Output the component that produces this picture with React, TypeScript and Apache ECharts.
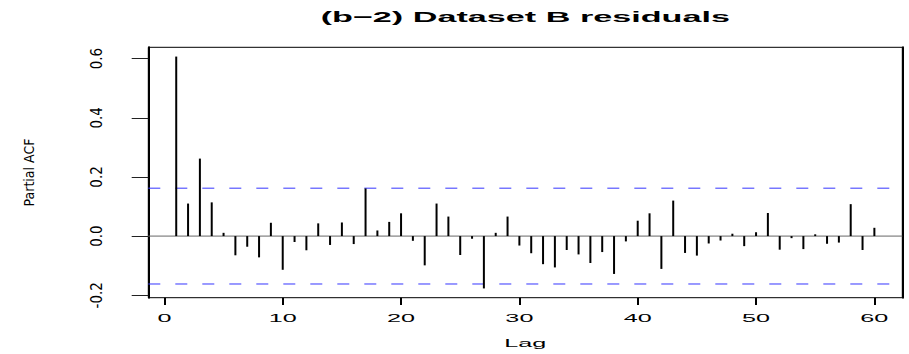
import React, { useEffect, useRef } from "react";
import * as echarts from "echarts";

const lags = [
  1, 2, 3, 4, 5, 6, 7, 8, 9, 10, 11, 12, 13, 14, 15, 16, 17, 18, 19, 20,
  21, 22, 23, 24, 25, 26, 27, 28, 29, 30, 31, 32, 33, 34, 35, 36, 37, 38, 39, 40,
  41, 42, 43, 44, 45, 46, 47, 48, 49, 50, 51, 52, 53, 54, 55, 56, 57, 58, 59, 60,
];
const pacfValues = [
  0.607, 0.11, 0.262, 0.114, 0.011, -0.065, -0.036, -0.072, 0.045, -0.114,
  -0.02, -0.048, 0.043, -0.03, 0.046, -0.027, 0.161, 0.019, 0.048, 0.077,
  -0.016, -0.099, 0.11, 0.066, -0.064, -0.009, -0.177, 0.011, 0.066, -0.032,
  -0.058, -0.095, -0.106, -0.047, -0.062, -0.091, -0.054, -0.128, -0.018, 0.052,
  0.077, -0.111, 0.12, -0.057, -0.066, -0.025, -0.015, 0.008, -0.034, 0.013,
  0.078, -0.046, -0.007, -0.044, 0.006, -0.026, -0.022, 0.108, -0.047, 0.028,
];
const confLimit = 0.162;
const xTickValues = [0, 10, 20, 30, 40, 50, 60];
const xTickLabels = ["0", "10", "20", "30", "40", "50", "60"];
const yTickValues = [-0.2, 0, 0.2, 0.4, 0.6];
const titleText = "(b\u22122) Dataset B residuals";
const xAxisTitle = "Lag";
const yAxisTitle = "Partial ACF";

export default function App() {
  const ref = useRef<HTMLDivElement>(null);
  useEffect(() => {
    if (!ref.current) return;
    const chart = echarts.init(ref.current, null, { renderer: "svg" });

    const xLo = Math.min(...lags);
    const xHi = Math.max(...lags);
    const xPad = (xHi - xLo) * 0.04;
    const xMin = xLo - xPad;
    const xMax = xHi + xPad;
    const yLo = Math.min(-confLimit, ...pacfValues);
    const yHi = Math.max(confLimit, ...pacfValues);
    const yPad = (yHi - yLo) * 0.04;

    const gridLeft = 148.3;
    const gridTop = 47.3;
    const gridWidth = 754;
    const gridHeight = 250.4;

    const narrow = "'Liberation Sans Narrow', 'DejaVu Sans Condensed', sans-serif";
    const sans = "'Liberation Sans', Arial, sans-serif";

    const hLine = (name: string, yv: number, color: string, type: any) => ({
      type: "line",
      name,
      xAxisIndex: 0,
      yAxisIndex: 0,
      data: [
        [xMin, yv],
        [xMax, yv],
      ],
      symbol: "none",
      silent: true,
      z: 3,
      lineStyle: { color, width: 1, type },
    });

    chart.setOption({
      animation: false,
      backgroundColor: "#ffffff",
      grid: {
        left: gridLeft,
        top: gridTop,
        width: gridWidth,
        height: gridHeight,
        show: true,
        borderColor: "#000000",
        borderWidth: 1,
        backgroundColor: "transparent",
      },
      xAxis: {
        type: "value",
        min: xMin,
        max: xMax,
        axisLine: { show: false, onZero: false },
        axisTick: {
          show: true,
          inside: false,
          length: 7.3,
          customValues: xTickValues,
          lineStyle: { color: "#000000", width: 2 },
        },
        axisLabel: { show: false, customValues: xTickValues },
        splitLine: { show: false },
      },
      yAxis: [
        {
          type: "value",
          min: yLo - yPad,
          max: yHi + yPad,
          position: "left",
          axisLine: { show: true, onZero: false, lineStyle: { color: "#000000", width: 2 } },
          axisTick: {
            show: true,
            inside: false,
            length: 16.6,
            customValues: yTickValues,
            lineStyle: { color: "#222222", width: 1 },
          },
          axisLabel: {
            show: true,
            customValues: yTickValues,
            rotate: 90,
            margin: 44,
            fontFamily: narrow,
            fontSize: 15,
            color: "#000000",
            formatter: (v: number) => v.toFixed(1),
          },
          splitLine: { show: false },
          name: yAxisTitle,
          nameLocation: "middle",
          nameRotate: 90,
          nameGap: 112,
          nameTextStyle: { fontFamily: narrow, fontSize: 14, color: "#000000" },
        },
        {
          type: "value",
          min: yLo - yPad,
          max: yHi + yPad,
          position: "right",
          axisLine: { show: true, onZero: false, lineStyle: { color: "#000000", width: 2 } },
          axisTick: { show: false },
          axisLabel: { show: false },
          splitLine: { show: false },
        },
      ],
      series: [
        hLine("zero", 0, "#666666", "solid"),
        hLine("upper", confLimit, "#3535ff", [12, 15]),
        hLine("lower", -confLimit, "#3535ff", [12, 15]),
        {
          type: "bar",
          name: "pacf",
          xAxisIndex: 0,
          yAxisIndex: 0,
          barWidth: 2,
          z: 4,
          data: lags.map((l, i) => [l, pacfValues[i]]),
          itemStyle: { color: "#000000" },
          silent: true,
        },
      ],
    });

    const centerX = gridLeft + gridWidth / 2;
    const labelEls = xTickValues.map((v, i) => {
      const px = chart.convertToPixel({ xAxisIndex: 0 }, v) as number;
      return {
        type: "text",
        id: "xl" + i,
        x: px,
        y: 318.7,
        scaleX: 2.4,
        style: {
          text: xTickLabels[i],
          x: 0,
          y: 0,
          fontFamily: sans,
          fontSize: 10.5,
          fill: "#000000",
          textAlign: "center",
          textVerticalAlign: "middle",
        },
      };
    });

    chart.setOption({
      graphic: [
        {
          type: "text",
          id: "title",
          x: centerX,
          y: 17.3,
          scaleX: 2.28,
          style: {
            text: titleText,
            x: 0,
            y: 0,
            fontFamily: sans,
            fontWeight: "bold",
            fontSize: 15,
            fill: "#000000",
            textAlign: "center",
            textVerticalAlign: "middle",
          },
        },
        {
          type: "text",
          id: "xname",
          x: centerX,
          y: 343,
          scaleX: 2.4,
          style: {
            text: xAxisTitle,
            x: 0,
            y: 0,
            fontFamily: sans,
            fontSize: 10.5,
            fill: "#000000",
            textAlign: "center",
            textVerticalAlign: "middle",
          },
        },
        ...labelEls,
      ],
    });

    return () => chart.dispose();
  }, []);

  return (
    <div
      ref={ref}
      style={{ position: "absolute", left: 0, top: 0, width: 909, height: 354 }}
    />
  );
}
